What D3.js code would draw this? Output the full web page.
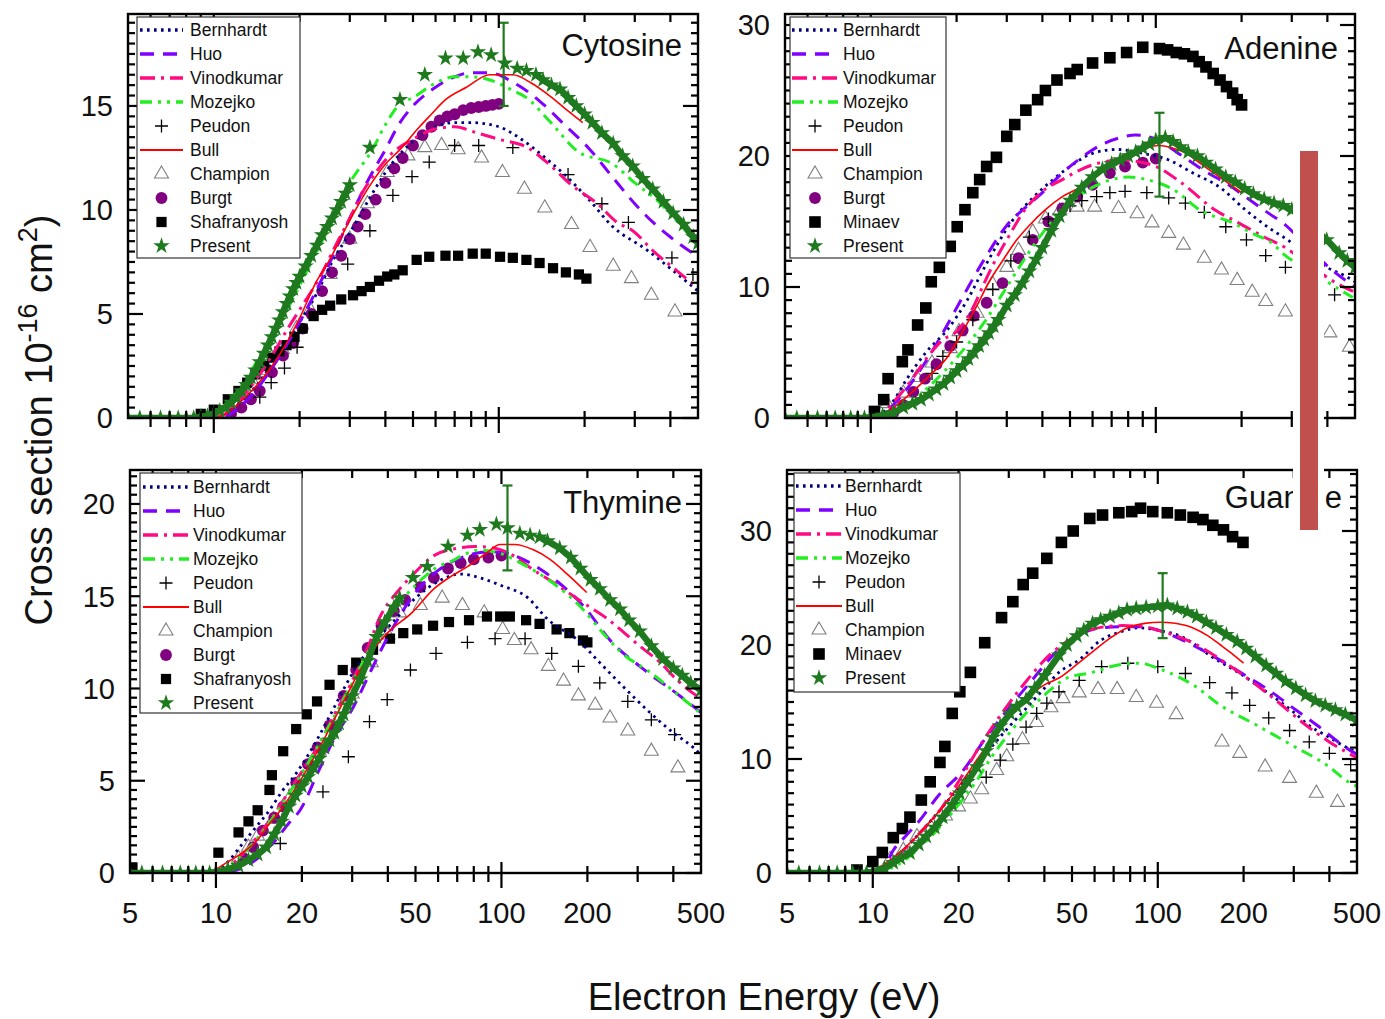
<!DOCTYPE html>
<html>
<head>
<meta charset="utf-8">
<script src="https://cdn.jsdelivr.net/npm/d3@7"></script>
<style>
body{margin:0;background:#fff}
svg{display:block;font-family:"Liberation Sans",Arial,sans-serif}
</style>
</head>
<body>
<svg id="chart" width="1385" height="1019"></svg>
<script>
// axis ticks (eV)
const xMinorTicks = [6,7,8,9,20,30,40,50,60,70,80,90,200,300,400];
const xMajorTicks = [10,100];
const xTickLabels = [5,10,20,50,100,200,500];

// ---------- Cytosine ----------
const cytBernhardt = [[10,0],[11,0.2],[12,0.6],[14,1.5],[16,2.6],[18,3.6],[20,4.6],[23,6.0],[26,7.5],[30,8.9],[35,10.5],[40,11.8],[50,13.3],[60,14.0],[70,14.2],[80,14.2],[100,14.0],[120,13.4],[140,12.7],[170,11.7],[204,10.6],[251,9.2],[329,8.1],[416,7.0],[500,6.1]];
const cytHuo = [[11,0],[12,0.4],[14,1.3],[16,2.4],[18,3.5],[20,4.6],[25,7.2],[30,9.6],[35,11.5],[40,12.9],[45,14.2],[50,15.0],[60,15.9],[70,16.4],[80,16.6],[90,16.6],[100,16.5],[110,16.2],[120,15.9],[140,15.2],[170,14.1],[209,12.9],[250,11.6],[300,10.3],[348,9.4],[400,8.7],[494,7.8]];
const cytVinodkumar = [[10,0],[11,0.2],[12,0.7],[14,1.8],[16,3.0],[18,4.2],[20,5.2],[23.6,6.8],[27,8.4],[30,9.6],[33.4,10.9],[37,11.8],[42,12.7],[50,13.4],[60,13.9],[70,14.0],[84,13.7],[100,13.4],[126,13.0],[150,12.2],[180,11.2],[222,10.3],[260,9.4],[295,9.0],[350,8.0],[420,7.1],[494,6.3]];
const cytMozejko = [[9,0],[10,0.2],[11,0.6],[12,1.2],[14,2.6],[16,3.9],[18.9,5.7],[22,7.5],[25,9.0],[30,11.3],[36,12.9],[40,14.1],[45,15.1],[50,15.4],[60,16.1],[70,16.4],[80,16.4],[93,16.25],[110,15.8],[125,15.4],[150,14.3],[190,12.8],[252,12.2],[300,11.3],[357,10.5],[420,9.5],[494,8.4]];
const cytBull = [[10,0],[11,0.2],[12,0.6],[14,1.5],[16,2.5],[18,3.6],[20,4.8],[23,6.6],[25,7.4],[30,9.5],[35,11.1],[40,12.2],[45,12.9],[52.7,14.0],[58,14.6],[65,15.3],[77,15.9],[93,16.5],[112,16.5],[130,16.1],[147,15.6],[170,14.9],[197,14.2]];
const cytPeudon = [[14.5,1.0],[15.9,1.7],[17.7,2.4],[19.6,3.4],[29.5,7.4],[35.3,9.0],[42.5,10.7],[49.6,11.6],[57,12.3],[70,13.1],[85,13.1],[112,13.0],[175,11.7],[230,10.3],[285,9.4],[405,7.7],[480,6.9]];
const cytChampion = [[12,0.5],[14,1.5],[15.5,2.3],[17.4,3.3],[19.5,4.3],[21.8,5.2],[25.6,6.9],[30,8.6],[34.6,10.3],[40.6,11.8],[48,12.6],[55,13.0],[63,13.1],[72,12.9],[87,12.5],[103,11.8],[123,11.0],[145,10.1],[180,9.3],[209,8.2],[252,7.3],[292,6.7],[343,5.9],[415,5.1]];
const cytBurgt = [[11.5,0.2],[12.5,0.5],[13.5,0.9],[14.5,1.3],[16,2.2],[17.5,3.0],[19,3.6],[20.5,4.3],[22,5.0],[24,6.1],[26,7.0],[28,7.8],[30,8.6],[32,9.2],[34,9.8],[37,10.5],[40,11.3],[43,12.0],[46,12.5],[50,13.1],[54,13.6],[58,14.0],[62,14.3],[66,14.5],[70,14.6],[75,14.8],[80,14.9],[85,14.95],[90,15.0],[95,15.05],[100,15.1]];
const cytShafranyosh = [[9,0.2],[10,0.4],[11.2,0.9],[12.2,1.3],[13.1,1.7],[14,2.1],[15,2.5],[16,2.9],[17,3.2],[18,3.5],[19.2,3.9],[20.5,4.3],[22.4,4.9],[24,5.2],[25.6,5.4],[28,5.7],[30.8,5.9],[33,6.1],[35.3,6.3],[38,6.6],[40.6,6.8],[43,6.9],[46,7.1],[51.5,7.6],[57,7.75],[65,7.8],[72,7.8],[81,7.9],[90,7.9],[101,7.75],[112,7.7],[125,7.6],[139,7.45],[155,7.2],[172,7.0],[191,6.9],[203,6.7]];
const cytPresentLow = [[5,0],[5.5,0],[6,0],[6.5,0],[7,0],[7.5,0],[8,0],[8.5,0],[9,0.05],[9.5,0.1],[10,0.2],[10.5,0.35],[11,0.5],[11.5,0.75],[12,1.0],[12.5,1.3],[13,1.6],[13.5,1.95],[14,2.3],[14.5,2.7],[15,3.1],[15.5,3.5],[16,3.9],[16.5,4.3],[17,4.7],[17.5,5.1],[18,5.5],[18.5,5.85],[19,6.2],[19.5,6.5],[20,6.8],[21,7.3],[22,7.8],[23,8.3],[24,8.8],[25,9.2],[26,9.6],[27,10.0],[28,10.4],[29,10.8],[30,11.2]];
const cytPresentMid = [[35.3,13.0],[45,15.3],[55,16.5],[65,17.3],[75,17.3],[84.5,17.6],[94,17.45],[105,17.05],[116,16.8],[125,16.7]];
const cytPresentHigh = [[135,16.5],[143,16.25],[153,16.0],[164,15.8],[175,15.4],[187,15.0],[200,14.6],[213,14.2],[230,13.7],[252,13.2],[272,12.6],[295,12.1],[320,11.5],[347,11.0],[378,10.4],[409,9.85],[445,9.3],[481,8.7],[500,8.4]];
const cytError = [104,15.0,19.0];

// ---------- Adenine ----------
const adeBernhardt = [[10,0],[11,0.4],[12,1.3],[13.4,3.0],[15.6,5.0],[18.5,6.7],[21.8,9.0],[25.5,11.8],[31,14.9],[37,16.8],[43.6,18.2],[50,19.2],[60,20.2],[73,20.5],[90,20.2],[111,19.7],[135,18.7],[168,17.6],[206,15.9],[254,14.4],[290,13.6],[340,12.5],[398,11.5],[466,10.8],[500,10.4]];
const adeHuo = [[10,0],[11,0.3],[12,1.0],[14,2.8],[16,4.7],[18,6.6],[20,8.4],[25,12.1],[30,14.7],[35,16.1],[40,17.2],[47,18.7],[55,19.9],[65,20.9],[75,21.4],[85,21.6],[100,21.3],[120,20.2],[150,18.8],[180,17.8],[206,16.9],[250,15.6],[279,14.9],[350,12.8],[415,11.3],[500,10.0]];
const adeVinodkumar = [[10,0],[11,0.4],[12,1.2],[14,3.0],[16,4.8],[18,6.0],[20,6.6],[22.8,8.4],[25,10.3],[27,11.8],[30,13.6],[35,16.0],[40,17.3],[47,18.2],[55,19.0],[64,19.5],[75,19.7],[90,19.5],[100,19.2],[124,17.9],[161,15.9],[195,14.9],[241,13.8],[285,13.0],[350,11.6],[430,10.3],[500,9.6]];
const adeMozejko = [[10,0],[12,0.4],[14,1.3],[16,2.4],[18,3.5],[20,4.6],[25,7.3],[30,10.0],[35,12.3],[40,14.1],[50,16.4],[60,17.6],[70,18.2],[80,18.4],[93,18.2],[118,17.3],[142,15.9],[186,14.9],[218,14.1],[254,13.4],[285,12.4],[350,11.2],[420,10.1],[491,9.2]];
const adeBull = [[10,0],[11,0.3],[12,0.8],[14,2.0],[16,3.2],[18.5,4.6],[21,6.6],[23.6,8.6],[26,10.4],[29,12.0],[32,13.4],[36,14.7],[41,15.9],[47,16.9],[54,17.6],[60,18.4],[69,19.3],[79,20.2],[90,20.6],[103,20.8],[115,20.6],[128,20.2],[140,19.6],[155,18.9],[175,18.1],[200,17.2]];
const adePeudon = [[16.4,3.4],[17.9,4.7],[20,5.8],[22.8,7.5],[26.8,9.8],[31,12.0],[36,13.8],[42,15.2],[50,16.2],[55,16.6],[62,16.9],[69,17.2],[78,17.3],[93,17.2],[111,16.8],[127,16.4],[148,15.7],[176,14.6],[208,13.6],[243,12.4],[285,11.5],[424,9.4]];
const adeChampion = [[11.4,1.1],[13,1.9],[14.5,3.1],[16.4,4.2],[19,5.3],[20.4,6.6],[23.6,8.0],[26.8,10.2],[30,11.5],[33,12.8],[37,14.2],[41,15.2],[46,15.8],[53,16.1],[61,16.1],[74,16.0],[86,15.6],[97,14.9],[111,14.1],[125,13.2],[148,12.2],[170,11.3],[193,10.5],[218,9.6],[243,8.9],[285,8.1],[340,7.3],[408,6.5],[478,5.4]];
const adeBurgt = [[12,0.4],[13,1.0],[14.1,2.0],[15.5,3.0],[17,4.1],[19,5.5],[21,6.7],[23,7.8],[25.5,8.8],[29,10.3],[33,12.2],[37,13.6],[42,15.0],[47,16.0],[53,16.9],[60,17.8],[69,18.7],[78,19.2],[90,19.5],[100,19.8]];
const adeMinaev = [[10.3,0.5],[11.1,1.4],[11.5,3.0],[12.9,4.3],[13.5,5.2],[14.6,7.1],[15.6,8.4],[16.3,10.4],[17.4,11.5],[19,13.1],[20.1,14.6],[21.4,15.9],[22.8,17.2],[24.1,18.2],[25.5,19.2],[27.6,19.9],[30,21.5],[32,22.4],[35,23.5],[38.5,24.3],[41,25.0],[45,25.8],[50,26.3],[53,26.6],[60,27.1],[69,27.5],[79,27.9],[90,28.3],[103,28.2],[110,28.1],[118,27.9],[126,27.8],[135,27.6],[142,27.2],[150,26.8],[159,26.3],[168,25.8],[177,25.3],[186,24.8],[193,24.3],[200,23.9]];
const adePresent = [[5,0],[5.5,0],[6,0],[6.5,0],[7,0],[7.5,0],[8,0],[8.5,0],[9,0],[9.5,0],[10,0.05],[11,0.2],[12,0.4],[13,0.8],[14,1.1],[15,1.4],[16,1.8],[17,2.2],[18,2.6],[19,3.1],[20,3.6],[21,4.0],[22,4.5],[23,5.0],[24,5.5],[25,6.0],[26,6.5],[27,7.0],[28,7.5],[30,8.6],[32,9.4],[34,10.3],[36,11.2],[38,12.1],[40,13.0],[43,14.3],[46,15.4],[50,16.6],[55,17.6],[60,18.4],[65,19.0],[70,19.4],[75,19.7],[80,20.0],[85,20.3],[90,20.6],[95,20.9],[100,21.2],[108,21.4],[115,21.1],[122,20.7],[130,20.3],[140,20.0],[150,19.5],[162,19.0],[176,18.4],[190,18.0],[205,17.5],[220,17.1],[240,16.7],[260,16.4],[280,16.2],[300,15.9],[330,15.2],[360,14.4],[398,13.6],[440,12.6],[470,12.0],[500,11.5]];
const adeError = [103,16.9,23.3];

// ---------- Thymine ----------
const thyBernhardt = [[10,0.1],[11,0.6],[12.4,1.6],[14,2.6],[15.4,3.4],[17,4.4],[19.1,5.4],[22,6.9],[25,8.5],[30.3,10.9],[35,12.3],[41.7,13.6],[50,14.9],[60,15.8],[72,16.2],[84,16.0],[99,15.6],[124,14.9],[144,13.8],[189,12.5],[221,11.4],[271,10.0],[336,8.6],[400,7.6],[470,6.8],[500,6.4]];
const thyHuo = [[11,0],[12,0.2],[14,0.8],[16,1.7],[18,2.7],[19.7,3.4],[23,5.6],[26.2,7.4],[30.3,9.0],[35,11.0],[40,12.8],[50,15.2],[60,16.4],[70,17.0],[80,17.3],[90,17.4],[100,17.4],[111,17.2],[148,16.1],[193,14.5],[244,12.5],[311,11.1],[430,9.5],[500,8.7]];
const thyVinodkumar = [[10,0],[11,0.3],[12,0.8],[14,2.0],[16,3.2],[18,4.4],[20,5.5],[23,7.0],[26,8.6],[30,10.4],[34,12.2],[37.6,13.9],[43,15.2],[48.5,16.1],[58,17.2],[70,17.6],[81,17.7],[95,17.6],[110,17.2],[130,16.4],[150,15.8],[171,15.2],[200,14.5],[234,13.8],[270,13.0],[305,12.3],[360,11.4],[410,10.5],[485,9.6],[500,9.5]];
const thyMozejko = [[10,0],[11,0.3],[12,0.8],[14,1.9],[16,3.1],[18,4.3],[20,5.4],[23,7.0],[26,8.5],[30,10.3],[35,12.3],[40,13.8],[50,15.6],[60,16.6],[67,16.9],[75,17.3],[84,17.5],[100,17.3],[120,16.7],[152,15.7],[190,14.4],[230,12.9],[265,11.9],[330,10.9],[420,9.6],[495,8.7]];
const thyBull = [[10,0.2],[11,0.6],[12.4,1.1],[14,1.8],[15.1,2.5],[17,3.5],[19,4.6],[21,5.7],[24,7.3],[28,9.3],[32,11.0],[36,12.2],[39.8,13.0],[48.5,14.1],[58,15.4],[67,16.1],[76,16.6],[88,17.3],[99,17.8],[111,17.8],[130,17.5],[148,17.0],[170,16.2],[199,15.2]];
const thyPeudon = [[16.8,1.6],[23.7,4.4],[29.1,6.3],[34.5,8.2],[39.8,9.4],[48,11.0],[59,11.9],[76,12.5],[95,12.7],[121,12.7],[150,11.9],[186,11.2],[221,10.3],[277,9.3],[335,8.3],[404,7.5]];
const thyChampion = [[12,0.8],[13,1.4],[14,2.0],[15.9,2.9],[18,4.0],[20,5.1],[23,6.6],[26,8.0],[30,9.7],[35,11.4],[40,12.9],[44,14.1],[52,14.5],[62,14.9],[73,14.5],[87,14.1],[101,13.2],[111,12.6],[127,12.1],[146,11.2],[165,10.4],[186,9.6],[213,9.1],[240,8.4],[277,7.7],[335,6.6],[415,5.7]];
const thyBurgt = [[12.5,0.8],[13.5,1.4],[14.6,2.3],[16,3.0],[17.2,3.6],[19.1,4.9],[21,5.9],[22.7,6.8],[25,8.0],[28,9.6],[31,11.0],[34,12.2],[38,13.4],[42,14.2],[46,14.8],[52,15.5],[58,16.0],[65,16.5],[72,16.8],[80,17.0],[90,17.1],[100,17.2]];
const thyShafranyosh = [[5.1,0.3],[10.2,1.1],[12,2.2],[13,2.8],[14,3.4],[15.4,4.5],[15.7,5.3],[17.2,6.6],[19.1,7.8],[20.8,8.6],[22.6,9.3],[25,10.2],[27.8,11.0],[31,11.4],[35.5,12.1],[40.7,12.7],[45.3,13.0],[50.7,13.2],[57.6,13.4],[65.5,13.6],[77,13.7],[89,13.9],[99,13.9],[107,13.9],[122,13.7],[136,13.5],[156,13.2],[173,13.0],[193,12.6],[200,12.5]];
const thyPresentLow = [[5,0],[5.5,0],[6,0],[6.5,0],[7,0],[7.5,0],[8,0],[8.5,0],[9,0],[9.5,0],[10,0.05],[11,0.2],[12,0.4],[13,0.7],[14,1.0],[15,1.4],[16,2.1],[17,2.8],[18,3.6],[19,4.2],[20,4.7],[21,5.2],[22,5.7],[23,6.2],[24,6.8],[25,7.2],[26,7.6],[27,8.1],[28,8.6],[29,9.1],[30,9.6],[32,10.5],[34,11.5],[36.5,12.8],[39,13.6],[42,14.4],[44,14.9]];
const thyPresentMid = [[49,16.0],[55,16.6],[65,17.7],[76,18.3],[84,18.6],[96,18.9],[105,18.7],[116,18.4],[126,18.3]];
const thyPresentHigh = [[136,18.2],[145,18.0],[160,17.6],[175,17.1],[189,16.5],[205,15.9],[221,15.4],[240,14.8],[260,14.3],[280,13.7],[305,13.1],[335,12.3],[368,11.6],[400,11.1],[430,10.7],[460,10.3],[500,9.9]];
const thyError = [105,16.4,21.0];

// ---------- Guanine ----------
const guaBernhardt = [[10,0],[11,0.5],[12,1.3],[14,3.0],[16,4.6],[18,6.1],[20,7.5],[25,10.5],[30,12.8],[35,14.6],[40,16.2],[45,17.6],[53,18.7],[63,20.4],[75,21.2],[86,21.5],[100,21.3],[122,20.7],[156,18.9],[197,17.4],[250,15.6],[300,14.1],[337,13.0],[400,11.9],[445,11.2],[500,10.6]];
const guaHuo = [[10,0],[11,0.6],[11.8,2.0],[13,3.2],[14.6,4.6],[17,6.8],[20.6,8.9],[25,11.9],[31,14.9],[37,17.2],[44,19.4],[53,20.9],[63,21.5],[73,21.6],[88,21.6],[100,21.3],[137,19.8],[170,18.5],[210,17.1],[250,15.9],[290,14.7],[360,13.0],[470,10.8],[500,10.4]];
const guaVinodkumar = [[10,0],[11,0.5],[12,1.3],[14.6,3.5],[17.2,5.5],[20.2,8.2],[24.1,11.4],[29.5,14.6],[35,17.0],[42,19.2],[48,20.3],[54.7,21.1],[65,21.6],[75,21.7],[90,21.6],[100,21.3],[130,20.3],[183,18.0],[227,16.3],[270,14.8],[322,13.2],[400,11.5],[500,10.1]];
const guaMozejko = [[10,0],[12,0.6],[14,1.8],[16,3.2],[18,4.6],[20,6.0],[23,8.0],[26,10.1],[30,12.2],[35,14.2],[40,15.6],[48,17.1],[59,17.6],[71,18.2],[86,18.4],[104,17.8],[133,16.5],[166,14.7],[221,13.0],[296,11.2],[400,9.3],[465,8.0],[500,7.6]];
const guaBull = [[10,0.2],[11,0.8],[12,1.5],[14,3.0],[16,4.6],[18,6.1],[20,7.6],[23,9.8],[26,11.7],[30,13.7],[35,15.4],[40,16.5],[45,17.1],[52,18.3],[59,19.4],[68,20.6],[78,21.5],[90,21.9],[102,22.0],[115,21.9],[133,21.5],[150,20.8],[166,20.0],[183,19.2],[200,18.4]];
const guaPeudon = [[25,8.4],[28,9.9],[31,11.3],[34.5,12.8],[37.6,14.0],[40.8,14.9],[45,15.9],[53,16.9],[63.5,18.1],[78.5,18.4],[100,18.1],[125,17.5],[152,16.7],[182,15.8],[210,14.7],[245,13.6],[290,12.5],[340,11.5],[400,10.5],[475,9.5]];
const guaChampion = [[11.5,1.2],[12.8,2.0],[14.3,3.2],[16,4.0],[18,5.0],[20,5.8],[22,6.5],[24.1,7.3],[27.2,9.0],[29.5,10.2],[33.5,11.7],[37.5,13.2],[42.2,14.5],[46.5,15.3],[53,15.8],[61.7,16.1],[72,16.1],[84,15.4],[99,14.9],[116,13.9],[168,11.5],[194,10.5],[238,9.3],[290,8.3],[360,7.0],[427,6.2]];
const guaMinaev = [[8.8,0.26],[10,1.0],[10.8,1.8],[11.8,3.1],[12.7,3.9],[13.5,4.9],[14.8,6.4],[15.9,8.0],[17.2,9.7],[17.9,11.1],[19,14.0],[20.2,15.9],[22,17.6],[24.7,20.2],[28.3,22.4],[31,23.8],[33.7,25.3],[36.4,26.3],[40.8,27.6],[45.9,29.0],[50.5,30.0],[57.7,31.1],[64,31.4],[73,31.6],[81,31.7],[87,32.0],[96,31.7],[108,31.6],[120,31.4],[133,31.2],[144,31.0],[156,30.5],[170,30.1],[183,29.5],[199,29.0]];
const guaPresent = [[5,0],[5.5,0],[6,0],[6.5,0],[7,0],[7.5,0],[8,0],[8.5,0],[9,0],[9.5,0],[10,0.1],[11,0.4],[11.8,0.9],[12.5,1.3],[13.5,1.75],[14.5,2.5],[15.4,3.2],[16.5,4.0],[17.6,4.9],[19,6.0],[20.2,7.0],[21.5,8.0],[23.2,9.3],[25,10.7],[26.4,11.9],[28,12.9],[30.3,14.0],[32,14.6],[34.5,15.2],[37,16.2],[40,17.3],[45,19.1],[48,20.0],[52,20.8],[55,21.3],[59,21.9],[63,22.2],[68,22.5],[73,22.8],[78,23.1],[84,23.2],[91,23.3],[100,23.4],[108,23.5],[117,23.2],[127,22.9],[137,22.5],[148,22.0],[160,21.5],[174,20.9],[190,20.3],[204,19.7],[220,19.0],[240,18.2],[260,17.5],[281,16.8],[305,16.2],[330,15.6],[357,15.1],[387,14.7],[420,14.3],[455,13.9],[500,13.4]];
const guaError = [104,20.6,26.3];

const legendC = ['Bernhardt','Huo','Vinodkumar','Mozejko','Peudon','Bull','Champion','Burgt','Shafranyosh','Present'];
const legendA = ['Bernhardt','Huo','Vinodkumar','Mozejko','Peudon','Bull','Champion','Burgt','Minaev','Present'];
const legendG = ['Bernhardt','Huo','Vinodkumar','Mozejko','Peudon','Bull','Champion','Minaev','Present'];

const green = '#1f7a1f';
const styles = {
  Bernhardt: {kind:'line', color:'#00007f', width:2.8, dash:'2.6 4.4'},
  Huo: {kind:'line', color:'#7f00ff', width:3, dash:'14 9'},
  Vinodkumar: {kind:'line', color:'#ff0a80', width:3, dash:'15 6 3 6'},
  Mozejko: {kind:'line', color:'#22ee22', width:3, dash:'12 6 3 6 3 6'},
  Bull: {kind:'line', color:'#ff0000', width:1.6, dash:null},
  Peudon: {kind:'mark'}, Champion: {kind:'mark'}, Burgt: {kind:'mark'},
  Shafranyosh: {kind:'mark'}, Minaev: {kind:'mark'}, Present: {kind:'mark'}
};

const symPath = {
  Peudon: 'M-6.5,0H6.5M0,-6.5V6.5',
  Champion: d3.symbol(d3.symbolTriangle, 85)(),
  Burgt: d3.symbol(d3.symbolCircle, 110)(),
  Shafranyosh: d3.symbol(d3.symbolSquare, 105)(),
  Minaev: d3.symbol(d3.symbolSquare, 135)(),
  Present: d3.symbol(d3.symbolStar, 85)()
};

function styleMark(sel, name) {
  sel.attr('d', symPath[name]);
  if (name === 'Peudon') sel.attr('fill','none').attr('stroke','#000').attr('stroke-width',1.3);
  else if (name === 'Champion') sel.attr('fill','#fff').attr('stroke','#808080').attr('stroke-width',1.1);
  else if (name === 'Burgt') sel.attr('fill','#800080');
  else if (name === 'Present') sel.attr('fill', green);
  else sel.attr('fill','#000');
}

const panels = [
  {key:'C', title:'Cytosine', left:128, right:698, top:14, bottom:418, yMax:19.42, yMajor:5, yMinor:0.5,
   xLabels:false, titleX:682, titleY:56,
   legend:{x:137, y:17, w:163, h:241, y0:30, dy:24, sx0:140, sx1:183, lx:190, names:legendC},
   series:{Bernhardt:cytBernhardt, Huo:cytHuo, Vinodkumar:cytVinodkumar, Mozejko:cytMozejko, Bull:cytBull,
           Peudon:cytPeudon, Champion:cytChampion, Burgt:cytBurgt, Shafranyosh:cytShafranyosh},
   dense:[cytPresentLow, cytPresentHigh], sparse:cytPresentMid, error:cytError},
  {key:'A', title:'Adenine', left:785, right:1355, top:14, bottom:418, yMax:30.84, yMajor:10, yMinor:1,
   xLabels:false, titleX:1338, titleY:59,
   legend:{x:790, y:17, w:156, h:241, y0:30, dy:24, sx0:792, sx1:838, lx:843, names:legendA},
   series:{Bernhardt:adeBernhardt, Huo:adeHuo, Vinodkumar:adeVinodkumar, Mozejko:adeMozejko, Bull:adeBull,
           Peudon:adePeudon, Champion:adeChampion, Burgt:adeBurgt, Minaev:adeMinaev},
   dense:[adePresent], sparse:[], error:adeError},
  {key:'T', title:'Thymine', left:130, right:701, top:470, bottom:873, yMax:21.84, yMajor:5, yMinor:0.5,
   xLabels:true, titleX:682, titleY:513,
   legend:{x:140, y:473, w:162, h:240, y0:487, dy:24, sx0:143, sx1:189, lx:193, names:legendC},
   series:{Bernhardt:thyBernhardt, Huo:thyHuo, Vinodkumar:thyVinodkumar, Mozejko:thyMozejko, Bull:thyBull,
           Peudon:thyPeudon, Champion:thyChampion, Burgt:thyBurgt, Shafranyosh:thyShafranyosh},
   dense:[thyPresentLow, thyPresentHigh], sparse:thyPresentMid, error:thyError},
  {key:'G', title:'Guanine', left:787, right:1357, top:470, bottom:873, yMax:35.35, yMajor:10, yMinor:1,
   xLabels:true, titleX:1342, titleY:508,
   legend:{x:794, y:473, w:166, h:219, y0:486, dy:24, sx0:796, sx1:842, lx:845, names:legendG},
   series:{Bernhardt:guaBernhardt, Huo:guaHuo, Vinodkumar:guaVinodkumar, Mozejko:guaMozejko, Bull:guaBull,
           Peudon:guaPeudon, Champion:guaChampion, Minaev:guaMinaev},
   dense:[guaPresent], sparse:[], error:guaError}
];

const svg = d3.select('#chart');
const drawOrder = ['Champion','Burgt','Shafranyosh','Minaev','Peudon','Bernhardt','Huo','Vinodkumar','Mozejko','Bull'];

panels.forEach(drawPanel);

function drawPanel(p) {
  const x = d3.scaleLog().domain([5,500]).range([p.left,p.right]);
  const y = d3.scaleLinear().domain([0,p.yMax]).range([p.bottom,p.top]);
  const g = svg.append('g').attr('class','panel-'+p.key);

  g.append('clipPath').attr('id','clip'+p.key).append('rect')
    .attr('x',p.left).attr('y',p.top).attr('width',p.right-p.left).attr('height',p.bottom-p.top);
  const plot = g.append('g').attr('clip-path','url(#clip'+p.key+')');
  const line = d3.line().x(d=>x(d[0])).y(d=>y(d[1])).curve(d3.curveMonotoneX);

  drawOrder.forEach(name => {
    const data = p.series[name];
    if (!data) return;
    const st = styles[name];
    if (st.kind === 'line') {
      plot.append('path').attr('d', line(data)).attr('fill','none')
        .attr('stroke', st.color).attr('stroke-width', st.width)
        .attr('stroke-dasharray', st.dash);
    } else {
      plot.append('g').selectAll('path').data(data).join('path')
        .attr('transform', d=>`translate(${x(d[0])},${y(d[1])})`)
        .call(styleMark, name);
    }
  });

  // present: dense stretches look like a thick band of stars
  p.dense.forEach(seg => {
    plot.append('path').attr('d', d3.line().x(d=>x(d[0])).y(d=>y(d[1]))(seg))
      .attr('fill','none').attr('stroke',green).attr('stroke-width',6.5)
      .attr('stroke-linejoin','round');
  });
  const allPresent = p.dense.flat().concat(p.sparse);
  plot.append('g').selectAll('path').data(allPresent).join('path')
    .attr('transform', d=>`translate(${x(d[0])},${y(d[1])})`)
    .call(styleMark, 'Present');

  // error bar
  const [eE, eLo, eHi] = p.error;
  const eb = plot.append('g').attr('stroke',green).attr('stroke-width',2.2);
  eb.append('line').attr('x1',x(eE)).attr('x2',x(eE)).attr('y1',y(eLo)).attr('y2',y(eHi));
  eb.append('line').attr('x1',x(eE)-5).attr('x2',x(eE)+5).attr('y1',y(eLo)).attr('y2',y(eLo));
  eb.append('line').attr('x1',x(eE)-5).attr('x2',x(eE)+5).attr('y1',y(eHi)).attr('y2',y(eHi));

  // title
  g.append('text').attr('x',p.titleX).attr('y',p.titleY).attr('text-anchor','end')
    .attr('font-size',31).attr('fill','#111').text(p.title);

  // frame and ticks
  const ax = g.append('g').attr('stroke','#000');
  ax.append('rect').attr('x',p.left).attr('y',p.top).attr('width',p.right-p.left).attr('height',p.bottom-p.top)
    .attr('fill','none').attr('stroke-width',2.4);
  const xt = xMinorTicks.map(v=>({v, major:false})).concat(xMajorTicks.map(v=>({v, major:true})));
  xt.forEach(t => {
    const px = x(t.v);
    ax.append('line').attr('x1',px).attr('x2',px)
      .attr('y1',p.bottom-(t.major?11:7)).attr('y2',p.bottom+(t.major?15:9)).attr('stroke-width',2.2);
    ax.append('line').attr('x1',px).attr('x2',px)
      .attr('y1',p.top).attr('y2',p.top+(t.major?14:8)).attr('stroke-width',2.2);
  });
  const yt = d3.range(0, p.yMax, p.yMinor);
  yt.forEach(v => {
    const major = Math.abs(v/p.yMajor - Math.round(v/p.yMajor)) < 1e-6;
    const py = y(v);
    ax.append('line').attr('x1',p.left).attr('x2',p.left+(major?15:7)).attr('y1',py).attr('y2',py).attr('stroke-width',2.2);
    ax.append('line').attr('x1',p.right).attr('x2',p.right-(major?15:7)).attr('y1',py).attr('y2',py).attr('stroke-width',2.2);
    if (major) {
      g.append('text').attr('x',p.left-15).attr('y',py).attr('dy','0.36em').attr('text-anchor','end')
        .attr('font-size',29).attr('fill','#111').text(Math.round(v));
    }
  });
  if (p.xLabels) {
    xTickLabels.forEach(v => {
      g.append('text').attr('x',x(v)).attr('y',p.bottom+50).attr('text-anchor','middle')
        .attr('font-size',29).attr('fill','#111').text(v);
    });
  }

  // legend (drawn over the top-axis ticks, as in the figure)
  const L = p.legend;
  const lg = g.append('g');
  lg.append('rect').attr('x',L.x).attr('y',L.y).attr('width',L.w).attr('height',L.h)
    .attr('fill','#fff').attr('stroke','#333').attr('stroke-width',1.2);
  L.names.forEach((name,i) => {
    const cy = L.y0 + i*L.dy;
    const st = styles[name];
    if (st.kind === 'line') {
      lg.append('line').attr('x1',L.sx0).attr('x2',L.sx1).attr('y1',cy).attr('y2',cy)
        .attr('stroke',st.color).attr('stroke-width',st.width+0.6).attr('stroke-dasharray',st.dash);
    } else {
      lg.append('path').attr('transform',`translate(${(L.sx0+L.sx1)/2},${cy})`).call(styleMark,name);
    }
    lg.append('text').attr('x',L.lx).attr('y',cy).attr('dy','0.36em')
      .attr('font-size',17.5).attr('fill','#111').text(name);
  });
}

// axis titles
const yTitle = svg.append('text').attr('transform','translate(52,420) rotate(-90)')
  .attr('text-anchor','middle').attr('font-size',38).attr('fill','#111');
yTitle.append('tspan').text('Cross section      10');
yTitle.append('tspan').attr('font-size',27).attr('dy',-15).text('-16');
yTitle.append('tspan').attr('dy',15).text(' cm');
yTitle.append('tspan').attr('font-size',27).attr('dy',-15).text('2');
yTitle.append('tspan').attr('dy',15).text(')');

svg.append('text').attr('x',764).attr('y',1010).attr('text-anchor','middle')
  .attr('font-size',38).attr('fill','#111').text('Electron Energy (eV)');

// overlay bar that sits on top of the figure
svg.append('rect').attr('x',1293).attr('y',151).attr('width',31).attr('height',379).attr('fill','#fff');
svg.append('rect').attr('x',1300).attr('y',151).attr('width',18).attr('height',379).attr('fill','#c0504d');
</script>
</body>
</html>
